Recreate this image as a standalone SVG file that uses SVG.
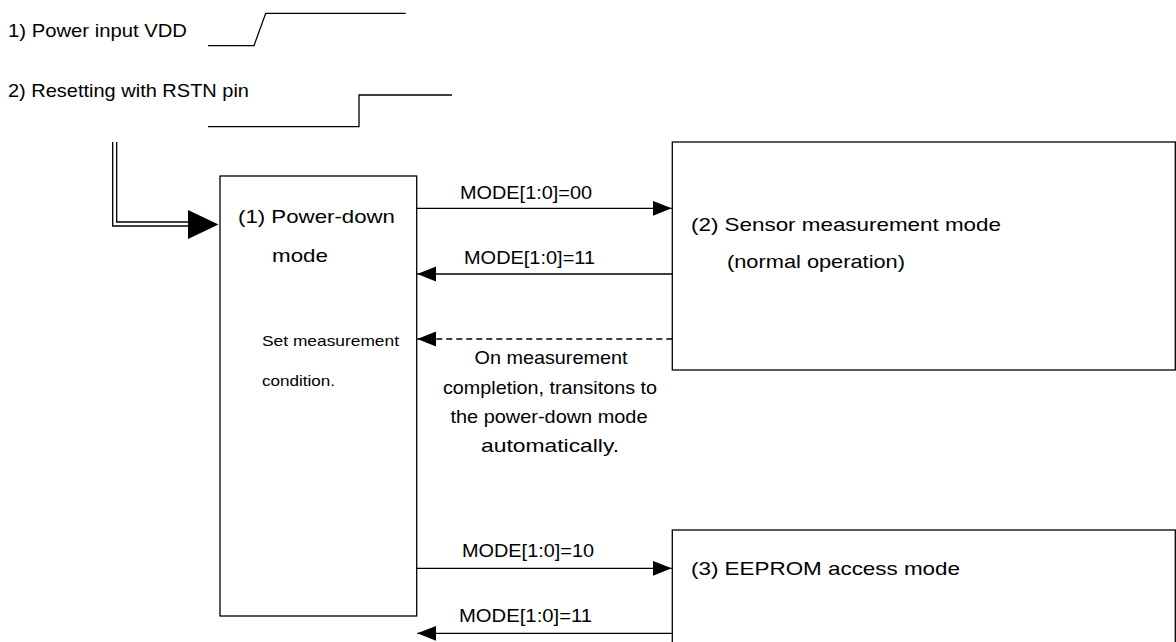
<svg xmlns="http://www.w3.org/2000/svg" width="1176" height="642" viewBox="0 0 1176 642">
<style>
text{font-family:"Liberation Sans",Arial,sans-serif;font-size:19px;fill:#000}
.sm{font-size:15px}
.ln{fill:none;stroke:#000;stroke-width:1.3}
.box{fill:#fff;stroke:#000;stroke-width:1.3}
.dash{stroke-dasharray:6 4}
</style>
<defs>
<marker id="ah" markerUnits="userSpaceOnUse" markerWidth="20" markerHeight="16" refX="19" refY="7.5" orient="auto">
<path d="M0,0 L19,7.5 L0,15 Z" fill="#000" stroke="none"/>
</marker>
</defs>
<g id="signals">
<text x="8" y="37" textLength="179" lengthAdjust="spacingAndGlyphs">1) Power input VDD</text>
<polyline class="ln" points="208,45.7 254,45.7 265.7,13.3 405.7,13.3"/>
<text x="8" y="97" textLength="241" lengthAdjust="spacingAndGlyphs">2) Resetting with RSTN pin</text>
<polyline class="ln" points="208,126.7 359,126.7 359,95 452,95"/>
</g>
<g id="node1">
<rect class="box" x="220" y="176" width="196.7" height="440"/>
<text x="238" y="223" textLength="157" lengthAdjust="spacingAndGlyphs">(1) Power-down</text>
<text x="272" y="262" textLength="56" lengthAdjust="spacingAndGlyphs">mode</text>
<text class="sm" x="262" y="346" textLength="137" lengthAdjust="spacingAndGlyphs">Set measurement</text>
<text class="sm" x="262" y="386" textLength="73" lengthAdjust="spacingAndGlyphs">condition.</text>
</g>
<g id="node2">
<rect class="box" x="672.3" y="142" width="503" height="228"/>
<text x="691" y="231" textLength="310" lengthAdjust="spacingAndGlyphs">(2) Sensor measurement mode</text>
<text x="727" y="268" textLength="178" lengthAdjust="spacingAndGlyphs">(normal operation)</text>
</g>
<g id="node3">
<rect class="box" x="672.3" y="530" width="503" height="130"/>
<text x="691" y="575" textLength="269" lengthAdjust="spacingAndGlyphs">(3) EEPROM access mode</text>
</g>
<g id="connectors">
<path class="ln" d="M112.7,142 V226 H190"/>
<path class="ln" d="M116.7,142 V222 H190"/>
<polygon points="188,210 218.5,224.5 188,239" fill="#000"/>
<line class="ln" x1="416.7" y1="208.3" x2="671.7" y2="208.3" marker-end="url(#ah)"/>
<text x="460" y="199" textLength="132" lengthAdjust="spacingAndGlyphs">MODE[1:0]=00</text>
<line class="ln" x1="672.3" y1="274" x2="417.3" y2="274" marker-end="url(#ah)"/>
<text x="464" y="264" textLength="131" lengthAdjust="spacingAndGlyphs">MODE[1:0]=11</text>
<line class="ln dash" x1="672.3" y1="339" x2="417.3" y2="339" marker-end="url(#ah)"/>
<text x="551" y="364" text-anchor="middle" textLength="153" lengthAdjust="spacingAndGlyphs">On measurement</text>
<text x="550" y="394" text-anchor="middle" textLength="214" lengthAdjust="spacingAndGlyphs">completion, transitons to</text>
<text x="549" y="423" text-anchor="middle" textLength="197" lengthAdjust="spacingAndGlyphs">the power-down mode</text>
<text x="550" y="452" text-anchor="middle" textLength="138" lengthAdjust="spacingAndGlyphs">automatically.</text>
<line class="ln" x1="416.7" y1="568.3" x2="671.7" y2="568.3" marker-end="url(#ah)"/>
<text x="462" y="557" textLength="132" lengthAdjust="spacingAndGlyphs">MODE[1:0]=10</text>
<line class="ln" x1="672.3" y1="633.3" x2="417.3" y2="633.3" marker-end="url(#ah)"/>
<text x="459" y="622" textLength="133" lengthAdjust="spacingAndGlyphs">MODE[1:0]=11</text>
</g>
</svg>
